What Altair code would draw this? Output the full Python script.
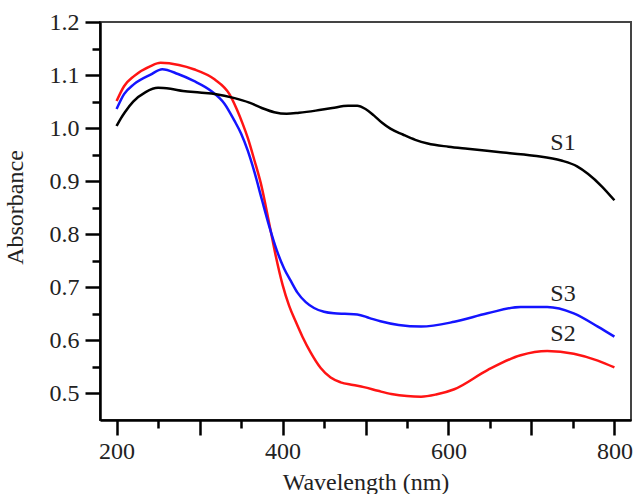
import altair as alt
import pandas as pd

# ---- data ----
s1_wl = [200, 205, 210, 220, 235, 250, 265, 280, 300, 320, 341, 360, 375, 390, 405, 420, 440, 460, 479, 490,
         500, 510, 520, 530, 545, 560, 575, 600, 623, 660, 703, 736, 755, 768, 785, 800]
s1_abs = [1.004, 1.018, 1.030, 1.050, 1.068, 1.076, 1.074, 1.070, 1.067, 1.064, 1.057, 1.048, 1.038, 1.030,
          1.027, 1.029, 1.033, 1.038, 1.042, 1.042, 1.036, 1.024, 1.010, 0.999, 0.988, 0.978, 0.971, 0.965,
          0.961, 0.955, 0.948, 0.939, 0.928, 0.914, 0.890, 0.864]

s2_wl = [200, 209, 221, 241, 253, 275, 293, 318, 336, 345, 352, 358, 366, 374, 384, 392, 400, 408, 416,
         424, 434, 446, 458, 470, 485, 498, 515, 531, 550, 567, 585, 607, 647, 687, 719, 751, 780, 800]
s2_abs = [1.051, 1.079, 1.098, 1.117, 1.123, 1.119, 1.111, 1.092, 1.064, 1.035, 1.008, 0.982, 0.940, 0.895,
          0.820, 0.758, 0.705, 0.665, 0.635, 0.607, 0.577, 0.548, 0.530, 0.521, 0.516, 0.512, 0.505, 0.499,
          0.495, 0.494, 0.498, 0.508, 0.544, 0.572, 0.580, 0.575, 0.562, 0.549]

s3_wl = [200, 209, 221, 241, 255, 274, 293, 314, 330, 342, 350, 358, 366, 375, 384, 393, 402, 410, 418,
         428, 438, 450, 462, 475, 490, 505, 518, 540, 567, 607, 647, 687, 719, 751, 780, 800]
s3_abs = [1.036, 1.064, 1.083, 1.101, 1.111, 1.102, 1.089, 1.070, 1.046, 1.014, 0.990, 0.958, 0.918, 0.866,
          0.815, 0.770, 0.735, 0.712, 0.690, 0.672, 0.661, 0.654, 0.651, 0.650, 0.649, 0.642, 0.636, 0.629,
          0.626, 0.635, 0.651, 0.663, 0.663, 0.651, 0.626, 0.607]

series_names = ["S2", "S3", "S1"]
series_colors = ["#ff1414", "#1414ff", "#000000"]

label_names = ["S1", "S3", "S2"]
label_wl = [738, 738, 738]
label_abs = [0.959, 0.674, 0.599]

x_major = [200, 300, 400, 500, 600, 700, 800]
x_minor = [250, 350, 450, 550, 650, 750]
y_major = [0.5, 0.6, 0.7, 0.8, 0.9, 1.0, 1.1, 1.2]
y_minor = [0.55, 0.65, 0.75, 0.85, 0.95, 1.05, 1.15]

rows = []
for name, wl, ab in [("S2", s2_wl, s2_abs), ("S3", s3_wl, s3_abs), ("S1", s1_wl, s1_abs)]:
    for w, a in zip(wl, ab):
        rows.append({"series": name, "wl": w, "abs": a})
df = pd.DataFrame(rows)
df_lab = pd.DataFrame({"name": label_names, "wl": label_wl, "abs": label_abs})

FONT = "Liberation Serif"
xscale = alt.Scale(domain=[180, 820], nice=False, zero=False)
yscale = alt.Scale(domain=[0.45, 1.2], nice=False, zero=False)

lines = alt.Chart(df).mark_line(strokeWidth=2.5, interpolate="monotone").encode(
    x=alt.X("wl:Q", scale=xscale, title="Wavelength (nm)",
            axis=alt.Axis(values=x_major, labelExpr="datum.value % 200 == 0 ? datum.label : ''",
                          tickSize=15, tickWidth=2.5, domainWidth=2.5, domainColor="#000", tickColor="#000",
                          labelPadding=23, labelBaseline="alphabetic", labelFlush=False, labelOverlap=False,
                          grid=False, orient="bottom", titleX=265.5, titleY=69, titleBaseline="alphabetic",
                          titleAlign="center")),
    y=alt.Y("abs:Q", scale=yscale, title="Absorbance",
            axis=alt.Axis(values=y_major, format=".1f", tickSize=15, tickWidth=2.5, domainWidth=2.5,
                          domainColor="#000", tickColor="#000", labelPadding=6, labelFlush=False,
                          labelOverlap=False, grid=False, orient="left", titleX=-78, titleY=185,
                          titleAngle=-90, titleBaseline="alphabetic", titleAlign="center")),
    color=alt.Color("series:N", scale=alt.Scale(domain=series_names, range=series_colors), legend=None),
    detail="series:N",
)

labels = alt.Chart(df_lab).mark_text(font=FONT, fontSize=24, baseline="alphabetic", align="center",
                                     color="#222").encode(
    x=alt.X("wl:Q", scale=xscale, title=None,
            axis=alt.Axis(values=x_minor, tickSize=8, tickWidth=2.5, tickColor="#000", labels=False,
                          domain=False, grid=False, orient="bottom")),
    y=alt.Y("abs:Q", scale=yscale, title=None,
            axis=alt.Axis(values=y_minor, tickSize=8, tickWidth=2.5, tickColor="#000", labels=False,
                          domain=False, grid=False, orient="left")),
    text="name:N",
)

chart = alt.layer(lines, labels).resolve_axis(x="independent", y="independent").properties(
    width=531, height=398, autosize="none",
    padding={"left": 100, "top": 22, "right": 6, "bottom": 74},
    background="white",
).configure_axis(
    labelFont=FONT, labelFontSize=24, labelColor="#222",
    titleFont=FONT, titleFontSize=24, titleColor="#222", titleFontWeight="normal",
).configure_view(stroke="#444", strokeWidth=2)

chart.save("out.html", embed_options={"renderer": "svg", "actions": False})
